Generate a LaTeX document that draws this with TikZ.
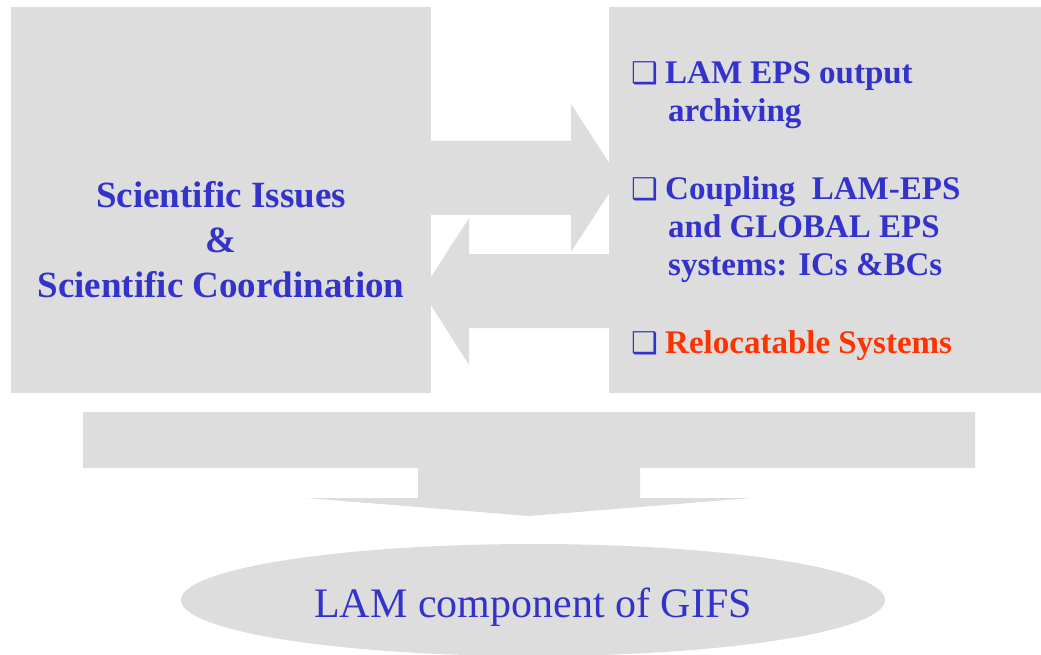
\documentclass[tikz,border=0pt]{standalone}
\usepackage{fontspec}
\setmainfont{Liberation Serif}
\newfontfamily\dingfont{DejaVu Sans}
\usetikzlibrary{positioning, shapes.geometric, calc}

\definecolor{panelgray}{HTML}{DDDDDD}
\definecolor{textblue}{HTML}{3333CC}
\definecolor{textred}{HTML}{FF3300}
\newcommand{\tickbox}{\makebox[34pt][l]{\dingfont\fontsize{30}{30}\selectfont ❑}}
\newcommand{\indentline}{\hspace*{37pt}}

\begin{document}
\begin{tikzpicture}[
  x=1pt, y=-1pt,
  panel/.style = {fill=panelgray, minimum width=#1, minimum height=386pt, inner sep=0pt},
  bigarrow/.style = {fill=panelgray},
  title/.style = {font=\bfseries\fontsize{37}{45}\selectfont, text=textblue, align=center, inner sep=0pt},
  item/.style = {font=\bfseries\fontsize{33}{38}\selectfont, text=textblue, align=left, inner sep=0pt, anchor=base west},
  goal/.style = {ellipse, fill=panelgray, minimum width=704pt, minimum height=112pt, inner sep=0pt,
                 text=textblue, font=\fontsize{42}{50}\selectfont, text height=34pt, text depth=0pt}
]
\useasboundingbox (0,0) rectangle (1041,655);

% Arrows between the panels
\fill[bigarrow] (431,141) -- (571,141) -- (571,104) -- (619,178) -- (571,252) -- (571,215) -- (431,215) -- cycle;
\fill[bigarrow] (609,254) -- (469,254) -- (469,218) -- (422,291) -- (469,365) -- (469,328) -- (609,328) -- cycle;

% Panels
\node[panel=420pt] (issues) at (221,200) {};
\node[panel=432pt] (topics) at (825,200) {};

% Panel texts (base = last line)
\node[title, anchor=base] (issuestext) at (221,297) {Scientific Issues\\ \&\\ Scientific Coordination};
\node[item] (archive) at (631,122) {\tickbox LAM EPS output\\ \indentline archiving};
\node[item] (coupling) at (631,275) {\tickbox Coupling~ LAM-EPS\\ \indentline and GLOBAL EPS\\ \indentline systems: ICs \&BCs};
\node[item] (reloc) at (631,353) {\tickbox\textcolor{textred}{Relocatable Systems}};

% Merging arrow down to the goal
\fill[bigarrow] (83,412) -- (975,412) -- (975,468) -- (640,468) -- (640,498) -- (751,498) -- (529,516)
  -- (306,498) -- (418,498) -- (418,468) -- (83,468) -- cycle;

% Goal
\node[goal] (gifs) at (533,600) {LAM component of GIFS};

\end{tikzpicture}
\end{document}
